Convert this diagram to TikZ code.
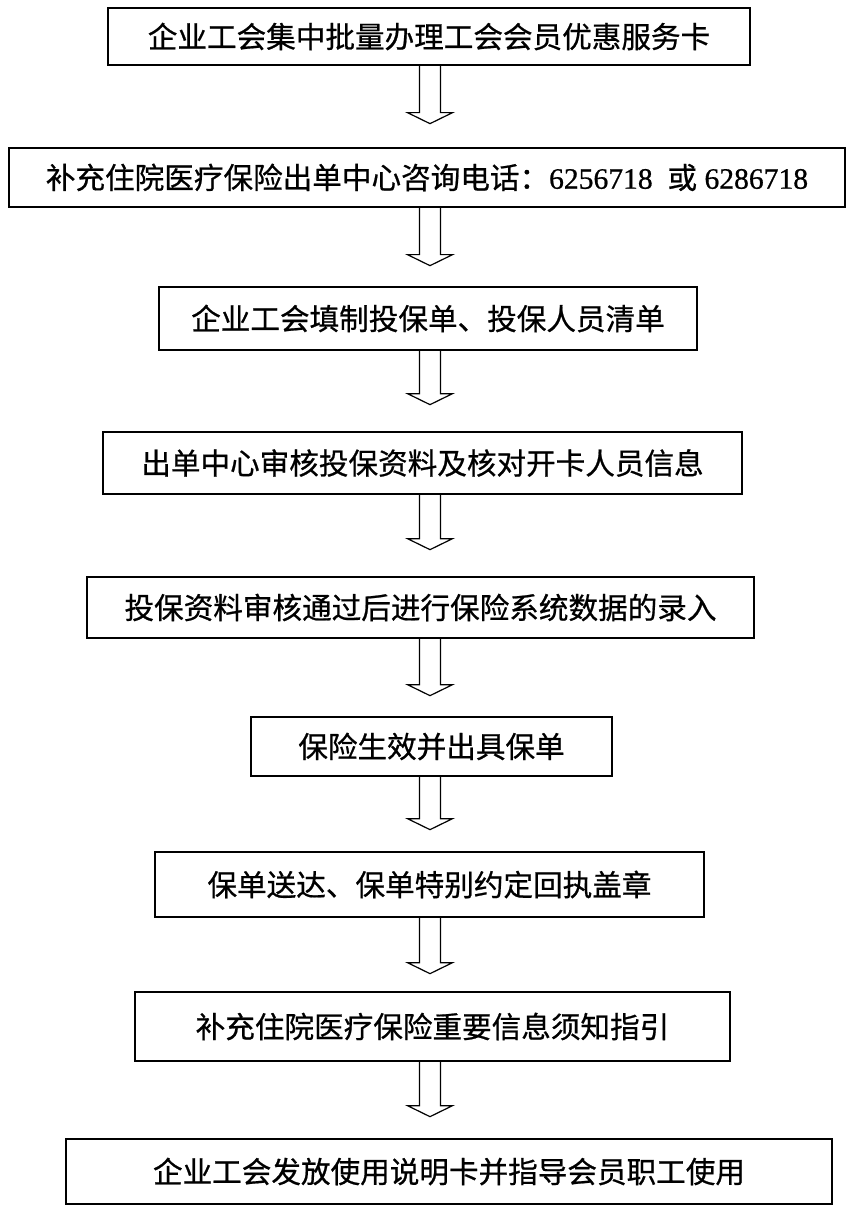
\documentclass[tikz,border=0pt]{standalone}
\usepackage{fontspec}
\setmainfont[FakeBold=0.7]{Noto Sans CJK SC}
\newfontfamily\numfont[FakeBold=0.7]{Liberation Serif}
\usetikzlibrary{calc}

\tikzset{
  stepbox/.style={draw, line width=1.3pt, inner sep=0pt,
    font=\fontsize{29.6pt}{34pt}\selectfont},
  blockarrow/.style={draw, line width=1.2pt, line join=miter}
}

\begin{document}
\begin{tikzpicture}[x=1pt,y=1pt]
  \useasboundingbox (0,0) rectangle (859,-1214);

  % Steps
  \node[stepbox, minimum width=642pt, minimum height=57pt] (b1) at (429,-36.5)
    {企业工会集中批量办理工会会员优惠服务卡};
  \node[stepbox, minimum width=836pt, minimum height=59pt] (b2) at (427,-177.5)
    {补充住院医疗保险出单中心咨询电话：{\numfont 6256718\ \ }或{\numfont\ 6286718}};
  \node[stepbox, minimum width=538pt, minimum height=63pt] (b3) at (428,-318.5)
    {企业工会填制投保单、投保人员清单};
  \node[stepbox, minimum width=639pt, minimum height=62pt] (b4) at (422.5,-463)
    {出单中心审核投保资料及核对开卡人员信息};
  \node[stepbox, minimum width=667pt, minimum height=61pt] (b5) at (420.5,-607.5)
    {投保资料审核通过后进行保险系统数据的录入};
  \node[stepbox, minimum width=361pt, minimum height=59pt] (b6) at (431.5,-746.5)
    {保险生效并出具保单};
  \node[stepbox, minimum width=549pt, minimum height=65pt] (b7) at (429.5,-884.5)
    {保单送达、保单特别约定回执盖章};
  \node[stepbox, minimum width=595pt, minimum height=69pt] (b8) at (432.5,-1026.5)
    {补充住院医疗保险重要信息须知指引};
  \node[stepbox, minimum width=766pt, minimum height=65pt] (b9) at (449,-1171.5)
    {企业工会发放使用说明卡并指导会员职工使用};

  % Hollow arrows below each box
  \coordinate (ax) at (430,0);
  \foreach \a/\l in {b1/47, b2/47, b3/43, b4/44, b5/46, b6/42, b7/45, b8/44} {
    \draw[blockarrow] (\a.south -| ax) ++(-10.5,0) -- ++(0,-\l) -- ++(-12,0)
      -- ++(22.5,-11) -- ++(22.5,11) -- ++(-12,0) -- ++(0,\l);
  }
\end{tikzpicture}
\end{document}
